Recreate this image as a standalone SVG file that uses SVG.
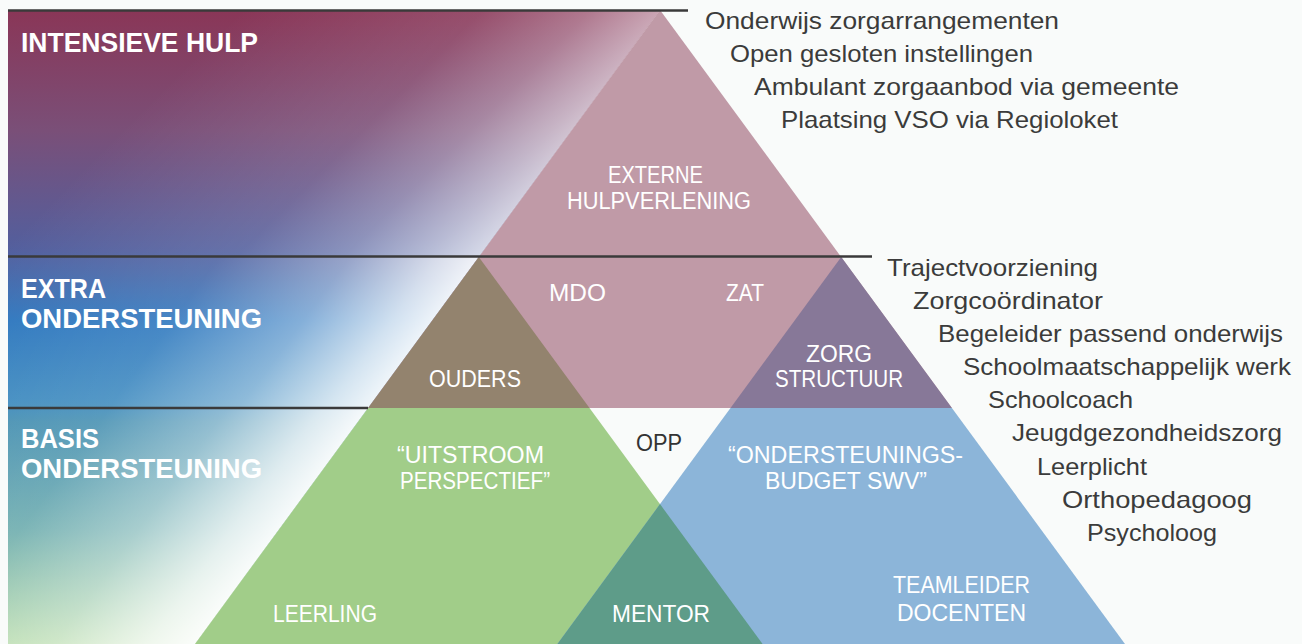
<svg xmlns="http://www.w3.org/2000/svg" width="1302" height="644" viewBox="0 0 1302 644">
  <defs>
    <linearGradient id="bandColors" gradientUnits="userSpaceOnUse" x1="0" y1="10" x2="0" y2="644">
      <stop offset="0" stop-color="#8a3657"/>
      <stop offset="0.19" stop-color="#7a4f78"/>
      <stop offset="0.38" stop-color="#525f9e"/>
      <stop offset="0.49" stop-color="#2c76be"/>
      <stop offset="0.615" stop-color="#3d8abf"/>
      <stop offset="0.65" stop-color="#4a92b3"/>
      <stop offset="0.82" stop-color="#6eadae"/>
      <stop offset="1" stop-color="#b0d8a4"/>
    </linearGradient>
    <linearGradient id="fade1" gradientUnits="userSpaceOnUse" x1="250" y1="0" x2="520" y2="270">
      <stop offset="0" stop-color="#ffffff" stop-opacity="0"/>
      <stop offset="0.45" stop-color="#ffffff" stop-opacity="0.12"/>
      <stop offset="0.65" stop-color="#ffffff" stop-opacity="0.33"/>
      <stop offset="0.8" stop-color="#ffffff" stop-opacity="0.58"/>
      <stop offset="0.95" stop-color="#ffffff" stop-opacity="0.86"/>
      <stop offset="1" stop-color="#ffffff" stop-opacity="0.9"/>
    </linearGradient>
    <linearGradient id="fade2" gradientUnits="userSpaceOnUse" x1="87" y1="83" x2="425" y2="332">
      <stop offset="0" stop-color="#ffffff" stop-opacity="0"/>
      <stop offset="0.5" stop-color="#ffffff" stop-opacity="0.12"/>
      <stop offset="0.75" stop-color="#ffffff" stop-opacity="0.42"/>
      <stop offset="0.92" stop-color="#ffffff" stop-opacity="0.78"/>
      <stop offset="1" stop-color="#ffffff" stop-opacity="0.92"/>
    </linearGradient>
    <linearGradient id="fade3" gradientUnits="userSpaceOnUse" x1="-24" y1="301" x2="282" y2="526">
      <stop offset="0" stop-color="#ffffff" stop-opacity="0"/>
      <stop offset="0.45" stop-color="#ffffff" stop-opacity="0.1"/>
      <stop offset="0.7" stop-color="#ffffff" stop-opacity="0.4"/>
      <stop offset="0.9" stop-color="#ffffff" stop-opacity="0.8"/>
      <stop offset="1" stop-color="#ffffff" stop-opacity="0.95"/>
    </linearGradient>
  </defs>
  <style>
    .lvl { font-family: "Liberation Sans", Arial, sans-serif; font-weight: bold; font-size: 28px; fill: #ffffff; }
    .lbl { font-family: "Liberation Sans", Arial, sans-serif; font-size: 23px; fill: #ffffff; }
    .opp { font-family: "Liberation Sans", Arial, sans-serif; font-size: 23px; fill: #333333; }
    .lst { font-family: "Liberation Sans", Arial, sans-serif; font-size: 24px; fill: #3b3b3b; }
    .sep { stroke: #3a3a3a; stroke-width: 2.5; fill: none; }
  </style>

  <rect x="0" y="0" width="1302" height="644" fill="#f9fbfa"/>

  <g id="band-intensieve-hulp">
    <polygon points="8,10 660,10 478.8,257 8,257" fill="url(#bandColors)"/>
    <polygon points="8,10 660,10 478.8,257 8,257" fill="url(#fade1)"/>
    <text class="lvl" x="21" y="52" textLength="237" lengthAdjust="spacingAndGlyphs">INTENSIEVE HULP</text>
  </g>
  <g id="band-extra-ondersteuning">
    <polygon points="8,257 478.8,257 368.1,408 8,408" fill="url(#bandColors)"/>
    <polygon points="8,257 478.8,257 368.1,408 8,408" fill="url(#fade2)"/>
    <text class="lvl" x="21" y="298" textLength="85" lengthAdjust="spacingAndGlyphs">EXTRA</text>
    <text class="lvl" x="21" y="328" textLength="241" lengthAdjust="spacingAndGlyphs">ONDERSTEUNING</text>
  </g>
  <g id="band-basis-ondersteuning">
    <polygon points="8,408 368.1,408 195,644 8,644" fill="url(#bandColors)"/>
    <polygon points="8,408 368.1,408 195,644 8,644" fill="url(#fade3)"/>
    <text class="lvl" x="21" y="448" textLength="78" lengthAdjust="spacingAndGlyphs">BASIS</text>
    <text class="lvl" x="21" y="478" textLength="241" lengthAdjust="spacingAndGlyphs">ONDERSTEUNING</text>
  </g>

  <g id="externe-hulpverlening">
    <polygon points="660,10 368.1,408 951.9,408" fill="#c09aa7"/>
    <text class="lbl" x="608" y="183" textLength="95" lengthAdjust="spacingAndGlyphs">EXTERNE</text>
    <text class="lbl" x="567" y="209" textLength="184" lengthAdjust="spacingAndGlyphs">HULPVERLENING</text>
    <text class="lbl" x="549" y="301" textLength="57" lengthAdjust="spacingAndGlyphs">MDO</text>
    <text class="lbl" x="726" y="301" textLength="38" lengthAdjust="spacingAndGlyphs">ZAT</text>
  </g>
  <g id="ouders">
    <polygon points="478.8,257 368.1,408 589.5,408" fill="#93836e"/>
    <text class="lbl" x="429" y="387" textLength="92" lengthAdjust="spacingAndGlyphs">OUDERS</text>
  </g>
  <g id="zorgstructuur">
    <polygon points="841.2,257 730.5,408 951.9,408" fill="#877898"/>
    <text class="lbl" x="806" y="362" textLength="66" lengthAdjust="spacingAndGlyphs">ZORG</text>
    <text class="lbl" x="775" y="387" textLength="128" lengthAdjust="spacingAndGlyphs">STRUCTUUR</text>
  </g>
  <g id="leerling">
    <polygon points="368.1,408 589.5,408 762.6,644 195,644" fill="#a1cd89"/>
    <text class="lbl" x="397" y="463" textLength="147" lengthAdjust="spacingAndGlyphs">“UITSTROOM</text>
    <text class="lbl" x="400" y="489" textLength="150" lengthAdjust="spacingAndGlyphs">PERSPECTIEF”</text>
    <text class="lbl" x="273" y="622" textLength="104" lengthAdjust="spacingAndGlyphs">LEERLING</text>
  </g>
  <g id="teamleider-docenten">
    <polygon points="730.5,408 951.9,408 1125,644 557.4,644" fill="#8cb5d9"/>
    <text class="lbl" x="728" y="463" textLength="235" lengthAdjust="spacingAndGlyphs">“ONDERSTEUNINGS-</text>
    <text class="lbl" x="765" y="489" textLength="162" lengthAdjust="spacingAndGlyphs">BUDGET SWV”</text>
    <text class="lbl" x="893" y="593" textLength="137" lengthAdjust="spacingAndGlyphs">TEAMLEIDER</text>
    <text class="lbl" x="897" y="621" textLength="129" lengthAdjust="spacingAndGlyphs">DOCENTEN</text>
  </g>
  <g id="mentor">
    <polygon points="660,504.1 762.6,644 557.4,644" fill="#5e9c89"/>
    <text class="lbl" x="612" y="622" textLength="98" lengthAdjust="spacingAndGlyphs">MENTOR</text>
  </g>
  <g id="opp">
    <text class="opp" x="636" y="451" textLength="46" lengthAdjust="spacingAndGlyphs">OPP</text>
  </g>

  <g id="connectors">
    <line class="sep" x1="8" y1="10.5" x2="688" y2="10.5"/>
    <line class="sep" x1="8" y1="256.5" x2="872" y2="256.5"/>
    <line class="sep" x1="8" y1="408" x2="368" y2="408"/>
  </g>

  <g id="list-intensieve-hulp">
    <text class="lst" x="705" y="29" textLength="354" lengthAdjust="spacingAndGlyphs">Onderwijs zorgarrangementen</text>
    <text class="lst" x="730" y="62" textLength="303" lengthAdjust="spacingAndGlyphs">Open gesloten instellingen</text>
    <text class="lst" x="754" y="95" textLength="425" lengthAdjust="spacingAndGlyphs">Ambulant zorgaanbod via gemeente</text>
    <text class="lst" x="781" y="128" textLength="337" lengthAdjust="spacingAndGlyphs">Plaatsing VSO via Regioloket</text>
  </g>
  <g id="list-ondersteuning">
    <text class="lst" x="887" y="276" textLength="211" lengthAdjust="spacingAndGlyphs">Trajectvoorziening</text>
    <text class="lst" x="913" y="309" textLength="190" lengthAdjust="spacingAndGlyphs">Zorgcoördinator</text>
    <text class="lst" x="938" y="342" textLength="345" lengthAdjust="spacingAndGlyphs">Begeleider passend onderwijs</text>
    <text class="lst" x="963" y="375" textLength="328" lengthAdjust="spacingAndGlyphs">Schoolmaatschappelijk werk</text>
    <text class="lst" x="988" y="408" textLength="145" lengthAdjust="spacingAndGlyphs">Schoolcoach</text>
    <text class="lst" x="1012" y="441" textLength="270" lengthAdjust="spacingAndGlyphs">Jeugdgezondheidszorg</text>
    <text class="lst" x="1037" y="475" textLength="110" lengthAdjust="spacingAndGlyphs">Leerplicht</text>
    <text class="lst" x="1062" y="508" textLength="190" lengthAdjust="spacingAndGlyphs">Orthopedagoog</text>
    <text class="lst" x="1087" y="541" textLength="130" lengthAdjust="spacingAndGlyphs">Psycholoog</text>
  </g>
</svg>
